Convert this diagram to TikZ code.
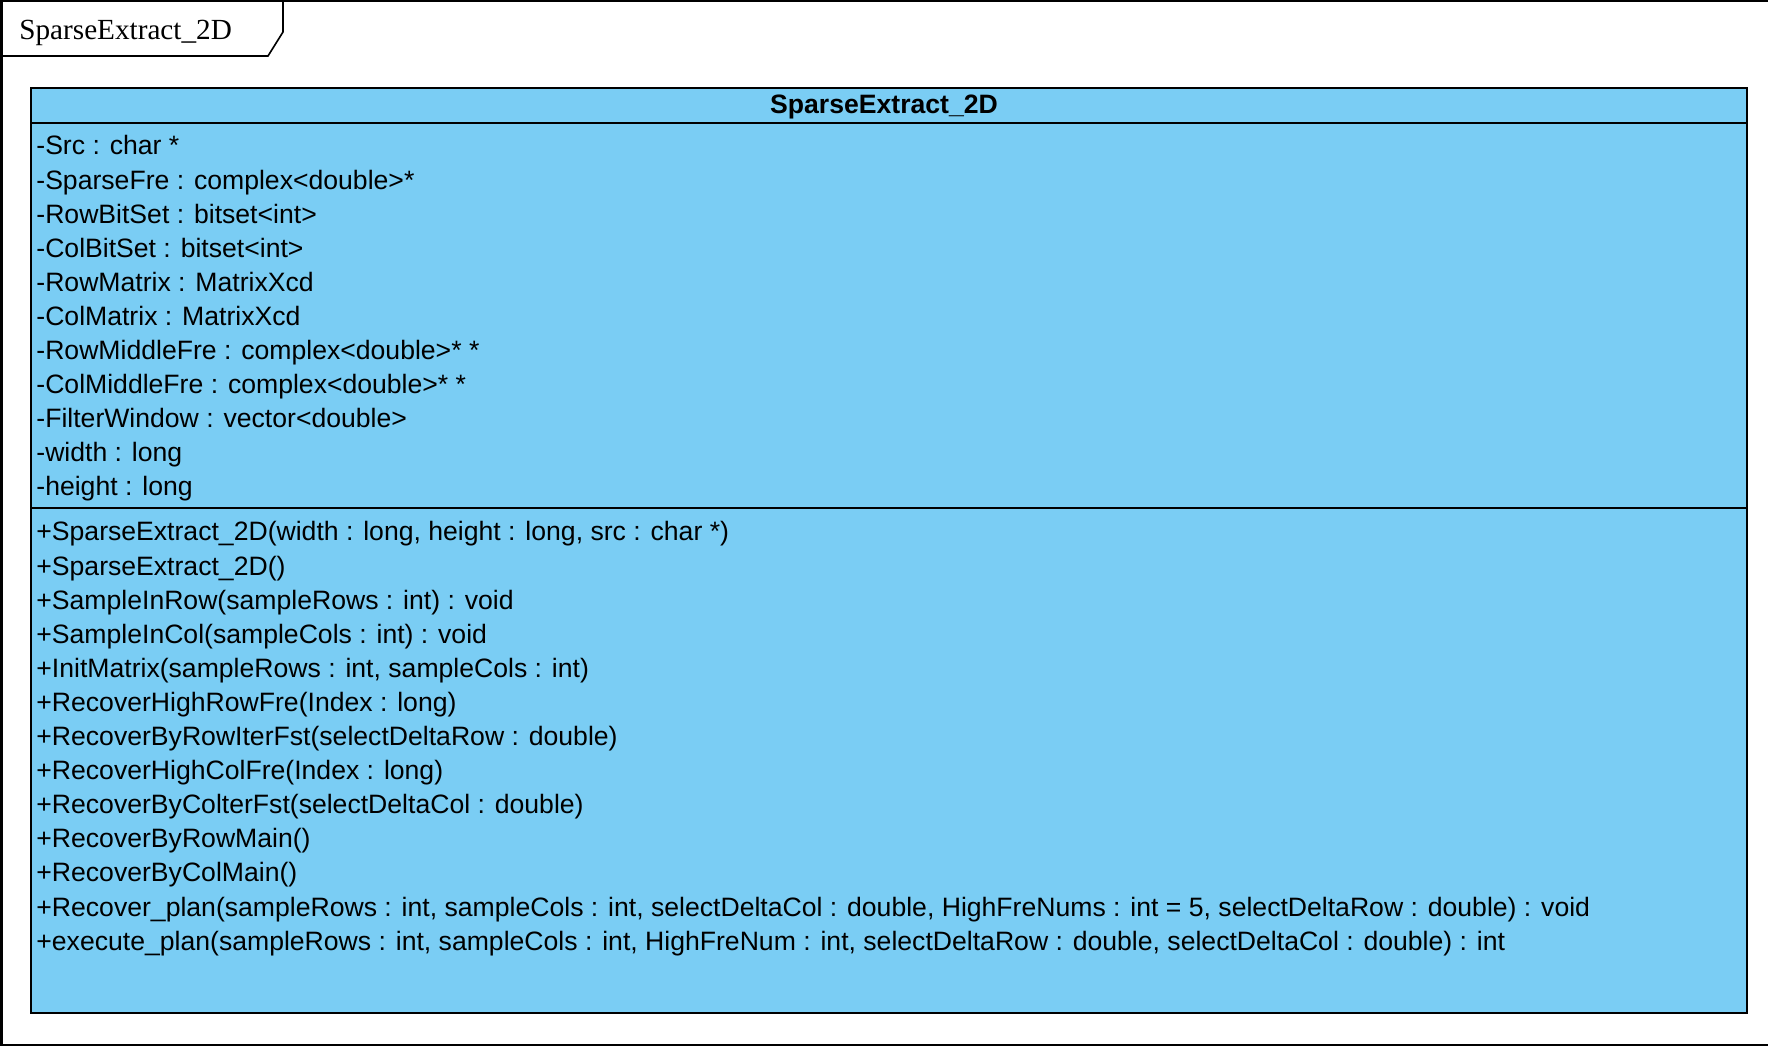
\documentclass[tikz,border=0pt]{standalone}
\usepackage{fontspec}
\setmainfont{Liberation Sans}
\newfontfamily\tabfont{Liberation Serif}
\usetikzlibrary{positioning}
\definecolor{classblue}{RGB}{122,205,244}

\begin{document}
\begin{tikzpicture}[x=0.5pt, y=-0.5pt,
    member/.style={anchor=base west, inner sep=0pt, font=\fontsize{13.3}{15}\selectfont}]
    \useasboundingbox (0,0) rectangle (1768,1052);
    % frame with its name tab
    \draw[line width=0.8pt] (0,1) -- (1768,1);
    \draw[line width=1.5pt] (1,0) -- (1,1045);
    \draw[line width=0.8pt] (0,1045) -- (1768,1045);
    \draw[line width=0.8pt] (283,1) -- (283,32) -- (268,56) -- (0,56);
    \node[anchor=base west, inner sep=0pt, font=\tabfont\fontsize{14.6}{17}\selectfont] (framename) at (19,40) {SparseExtract\_2D};
    % class box
    \draw[fill=classblue, line width=1pt] (31,88) rectangle (1747,1013);
    \draw[line width=1pt] (31,123) -- (1747,123);
    \draw[line width=1pt] (31,508) -- (1747,508);
    \node[anchor=base, inner sep=0pt, font=\bfseries\fontsize{13.3}{15}\selectfont] (classname) at (884,114) {SparseExtract\_2D};
    % attributes
    \foreach \txt [count=\i from 0] in {{-Src : char *}, {-SparseFre : complex<double>*}, {-RowBitSet : bitset<int>}, {-ColBitSet : bitset<int>}, {-RowMatrix : MatrixXcd}, {-ColMatrix : MatrixXcd}, {-RowMiddleFre : complex<double>* *}, {-ColMiddleFre : complex<double>* *}, {-FilterWindow : vector<double>}, {-width : long}, {-height : long}}
        \node[member] (attr\i) at (36,155+34.1*\i) {\txt};
    % operations
    \foreach \txt [count=\i from 0] in {{+SparseExtract\_2D(width : long, height : long, src : char *)}, {+SparseExtract\_2D()}, {+SampleInRow(sampleRows : int) : void}, {+SampleInCol(sampleCols : int) : void}, {+InitMatrix(sampleRows : int, sampleCols : int)}, {+RecoverHighRowFre(Index : long)}, {+RecoverByRowIterFst(selectDeltaRow : double)}, {+RecoverHighColFre(Index : long)}, {+RecoverByColterFst(selectDeltaCol : double)}, {+RecoverByRowMain()}, {+RecoverByColMain()}, {+Recover\_plan(sampleRows : int, sampleCols : int, selectDeltaCol : double, HighFreNums : int = 5, selectDeltaRow : double) : void}, {+execute\_plan(sampleRows : int, sampleCols : int, HighFreNum : int, selectDeltaRow : double, selectDeltaCol : double) : int}}
        \node[member] (oper\i) at (36,541+34.1*\i) {\txt};
\end{tikzpicture}
\end{document}
